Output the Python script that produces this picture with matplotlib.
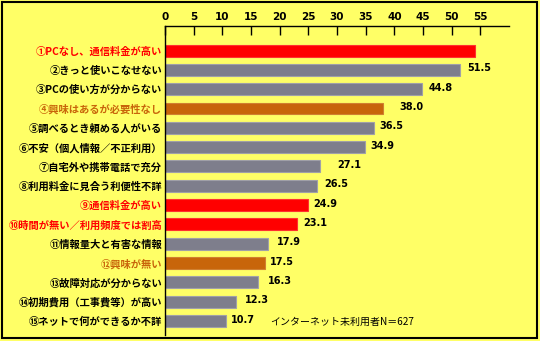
import numpy as np
import matplotlib.pyplot as plt
from matplotlib.patches import Rectangle

plt.rcParams['font.family'] = ['Noto Sans CJK JP', 'DejaVu Sans']

### data ###
labels = ["①PCなし、通信料金が高い",
          "②きっと使いこなせない",
          "③PCの使い方が分からない",
          "④興味はあるが必要性なし",
          "⑤調べるとき頼める人がいる",
          "⑥不安（個人情報／不正利用）",
          "⑦自宅外や携帯電話で充分",
          "⑧利用料金に見合う利便性不詳",
          "⑨通信料金が高い",
          "⑩時間が無い／利用頻度では割高",
          "⑪情報量大と有害な情報",
          "⑫興味が無い",
          "⑬故障対応が分からない",
          "⑭初期費用（工事費等）が高い",
          "⑮ネットで何ができるか不詳"]
values = [54.0, 51.5, 44.8, 38.0, 36.5, 34.9, 27.1, 26.5, 24.9, 23.1, 17.9, 17.5, 16.3, 12.3, 10.7]
value_text = ["", "51.5", "44.8", "38.0", "36.5", "34.9", "27.1", "26.5", "24.9", "23.1", "17.9", "17.5", "16.3", "12.3", "10.7"]
groups = ["r", "g", "g", "o", "g", "g", "g", "g", "r", "r", "g", "o", "g", "g", "g"]
xticks = [0, 5, 10, 15, 20, 25, 30, 35, 40, 45, 50, 55]
note = "インターネット未利用者N＝627"

bar_col = {"r": "#ff0000", "g": "#7e7e8c", "o": "#c8650a"}
txt_col = {"r": "#ff0000", "g": "black", "o": "#c8650a"}
gap = [0, 3, 3, 10, 2, 2, 10, 3, 2, 2, 5, 1, 5, 5, 1]

fig = plt.figure(figsize=(5.4, 3.41), dpi=100, facecolor="#ffff66")
ax = fig.add_axes([0.3056, 0.0176, 0.637, 0.9062])
ax.set_facecolor("#ffff66")

y = np.arange(len(values))
ax.barh(y, values, height=0.62,
        color=[bar_col[g] for g in groups],
        edgecolor=["#ff3030" if g == "r" else ("#a0a0a8" if g == "g" else "#d08030") for g in groups],
        linewidth=0.8)

for i in range(len(values)):
    if value_text[i]:
        ax.annotate(value_text[i], (values[i], y[i]), xytext=(2 + gap[i], 1),
                    textcoords="offset points", va="center", ha="left",
                    fontsize=7, fontweight="bold", family="DejaVu Sans")

ax.set_ylim(14.72, -1.27)
ax.set_xlim(0, 60)
ax.set_yticks(y)
ax.set_yticklabels(labels, fontsize=7.4, fontweight="bold")
for t, g in zip(ax.get_yticklabels(), groups):
    t.set_color(txt_col[g])
ax.tick_params(axis="y", length=0, pad=2)

ax.xaxis.tick_top()
ax.set_xticks(xticks)
ax.set_xticklabels([str(v) for v in xticks], fontsize=7.5, fontweight="bold", family="DejaVu Sans")
ax.tick_params(axis="x", direction="in", length=6.5, width=1, pad=3)

ax.spines["right"].set_visible(False)
ax.spines["bottom"].set_visible(False)
ax.spines["top"].set_linewidth(1)
ax.spines["left"].set_linewidth(1)

ax.text(18.4, 14.05, note, fontsize=7.2, va="center", ha="left")

fig.patches.append(Rectangle((0.004, 0.008), 0.99, 0.986, transform=fig.transFigure,
                             fill=False, edgecolor="black", linewidth=1.5))

fig.savefig("out.png", dpi=100, facecolor=fig.get_facecolor())
